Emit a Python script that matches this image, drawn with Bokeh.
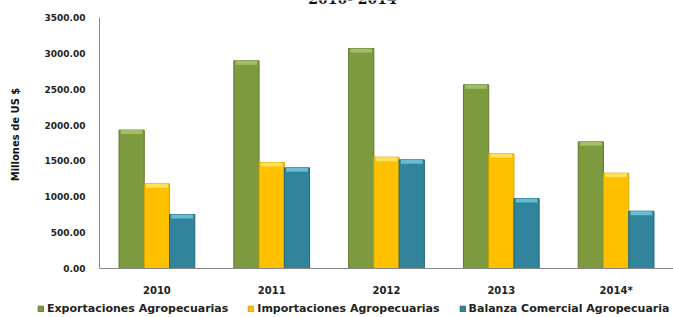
from bokeh.plotting import figure
from bokeh.layouts import column
from bokeh.models import ColumnDataSource, FactorRange, Legend, LegendItem, Label, NumeralTickFormatter, FixedTicker, Range1d
from bokeh.transform import dodge
from bokeh.embed import file_html
from bokeh.resources import INLINE

years = ["2010", "2011", "2012", "2013", "2014*"]
exportaciones = [1930, 2896, 3068, 2561, 1766]
importaciones = [1181, 1478, 1552, 1599, 1329]
balanza = [753, 1404, 1515, 976, 799]
series_names = ["Exportaciones Agropecuarias", "Importaciones Agropecuarias", "Balanza Comercial Agropecuaria"]
colors = ["#7D9A3F", "#FFC000", "#31849B"]
edge_colors = ["#5F7A2C", "#D9A300", "#23667A"]
top_colors = ["#A3BE66", "#FFE15A", "#66BCD3"]
y_ticks = [0, 500, 1000, 1500, 2000, 2500, 3000, 3500]
y_max = 3500
title_text = "2010- 2014"

BEVEL = 55  # data units of the light bevel strip at top of each bar
src = ColumnDataSource(dict(year=years, exp=exportaciones, imp=importaciones, bal=balanza,
                            exp_b=[v - BEVEL for v in exportaciones],
                            imp_b=[v - BEVEL for v in importaciones],
                            bal_b=[v - BEVEL for v in balanza]))

W = 673
H_MAIN = 300
FRAME_H = 268
AXIS_TOP = 17
R = y_max * FRAME_H / (FRAME_H - AXIS_TOP)

p = figure(x_range=FactorRange(*years, range_padding=0), y_range=Range1d(0, R),
           width=W, height=H_MAIN, output_backend="svg", toolbar_location=None,
           min_border_left=99, min_border_right=0, min_border_top=0, min_border_bottom=H_MAIN - FRAME_H)
p.outline_line_color = None
p.xgrid.visible = False
p.ygrid.visible = False

for key, off, c, ec, tc in zip(["exp", "imp", "bal"], [-0.22, 0.0, 0.22], colors, edge_colors, top_colors):
    p.vbar(x=dodge("year", off, range=p.x_range), top=key, width=0.22, source=src,
           fill_color=c, line_color=ec, line_width=1)
    p.vbar(x=dodge("year", off, range=p.x_range), top=key, bottom=key + "_b", width=0.19, source=src,
           fill_color=tc, line_color=None)

p.yaxis.ticker = FixedTicker(ticks=y_ticks)
p.yaxis.bounds = (0, y_max)
p.yaxis.formatter = NumeralTickFormatter(format="0.00")
p.yaxis.axis_label = "Millones de US $"
p.yaxis.axis_label_text_font = "DejaVu Sans"
p.yaxis.axis_label_text_font_style = "bold"
p.yaxis.axis_label_text_font_size = "10px"
p.yaxis.axis_label_text_color = "#111111"
p.yaxis.axis_label_standoff = 21
p.yaxis.major_label_text_font = "DejaVu Sans"
p.yaxis.major_label_text_font_style = "bold"
p.yaxis.major_label_text_font_size = "9px"
p.yaxis.major_label_text_color = "#222222"
p.yaxis.major_label_standoff = 14
p.yaxis.major_tick_out = 0
p.yaxis.major_tick_in = 0
p.yaxis.minor_tick_out = 0
p.yaxis.minor_tick_in = 0
p.yaxis.axis_line_color = "#888888"

p.xaxis.major_label_text_font = "DejaVu Sans"
p.xaxis.major_label_text_font_style = "bold"
p.xaxis.major_label_text_font_size = "10px"
p.xaxis.major_label_text_color = "#222222"
p.xaxis.major_label_standoff = 16
p.xaxis.major_tick_out = 0
p.xaxis.major_tick_in = 0
p.xaxis.axis_line_color = "#888888"

title = Label(x=352 - 99, y=FRAME_H + 2, x_units="screen", y_units="screen", text=title_text,
              text_font="DejaVu Serif", text_font_style="bold", text_font_size="14px",
              text_align="center", text_baseline="alphabetic", text_color="#111111")
p.add_layout(title)

# legend strip
pl = figure(width=W, height=17, output_backend="svg", toolbar_location=None,
            x_range=Range1d(0, 1), y_range=Range1d(0, 1),
            min_border=0, min_border_left=0, min_border_right=0, min_border_top=0, min_border_bottom=0,
            x_axis_location=None, y_axis_location=None)
for fig in (p, pl):
    try:
        fig.frame_align = False
    except Exception:
        pass
pl.outline_line_color = None
pl.xgrid.visible = False
pl.ygrid.visible = False
leg_renderers = []
for c, ec in zip(colors, edge_colors):
    rr = pl.vbar(x=[float("nan")], top=[float("nan")], width=0.1,
                 fill_color=c, line_color=ec, line_width=1)
    leg_renderers.append(rr)
items = [LegendItem(label=n, renderers=[r]) for n, r in zip(series_names, leg_renderers)]
legend = Legend(items=items, orientation="horizontal", location=(37, 2),
                label_text_font="DejaVu Sans", label_text_font_style="bold", label_text_font_size="11px",
                label_text_color="#222222", glyph_width=7, glyph_height=7, label_standoff=3,
                spacing=19, padding=0, margin=0, border_line_color=None, background_fill_alpha=0,
                label_height=10)
pl.add_layout(legend, "center")

layout = column(p, pl, spacing=0)
open("out.html", "w").write(file_html(layout, INLINE))
